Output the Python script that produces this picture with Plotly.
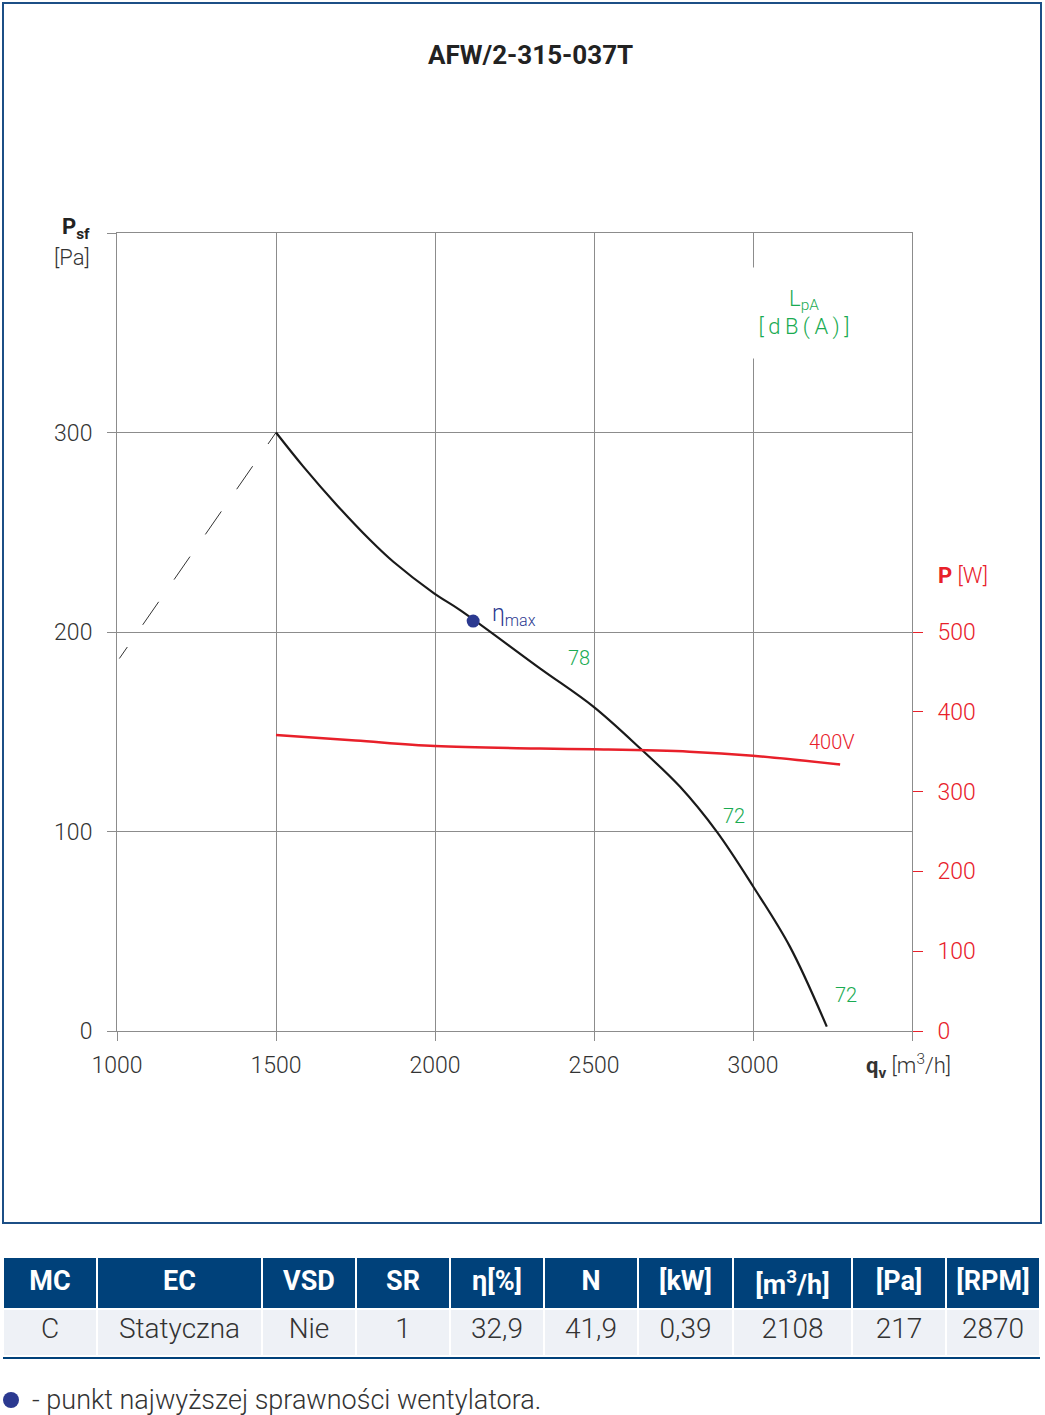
import plotly.graph_objects as go

W, H = 1045, 1415

# Fan characteristic (static pressure vs flow)
q_fan = [1500, 1586, 1691, 1796, 1869, 1997, 2079, 2330, 2498, 2645, 2770, 2886, 3001, 3116, 3232]
p_fan = [300, 282.9, 263.7, 246.1, 235.2, 219.4, 211, 181.8, 162.6, 141.7, 122.5, 99.9, 72.3, 42.3, 2.2]

# Unstable zone (dashed)
q_stall = [1500, 1000]
p_stall = [300, 185]

# Power input, 400V
q_pow = [1500, 1750, 2000, 2330, 2500, 2800, 3000, 3274]
p_pow = [371, 364, 357, 354, 353, 350, 345, 334]

# Point of max efficiency
q_eta = [2120]
p_eta = [205.5]

# Axis ticks
x_ticks = [1000, 1500, 2000, 2500, 3000, 3500]
x_labels = ["1000", "1500", "2000", "2500", "3000", ""]
y_ticks = [0, 100, 200, 300, 400]
y_labels = ["0", "100", "200", "300", ""]
pw_ticks = [0, 100, 200, 300, 400, 500]

# Noise labels (dB(A))
lpa_labels = ["78", "72", "72"]

# Table
table_header = ["MC", "EC", "VSD", "SR", "η[%]", "N", "[kW]", "[m<sup>3</sup>/h]", "[Pa]", "[RPM]"]
table_row = ["C", "Statyczna", "Nie", "1", "32,9", "41,9", "0,39", "2108", "217", "2870"]
col_widths = [94, 165, 94, 94, 94, 94, 95, 119, 94, 94]

FONT = "Roboto"
NAVY = "#00417a"
RED = "#e8202a"
GREEN = "#1aab52"
ETA = "#2b3990"
GRID = "#8c8c8c"


def px(x):
    return x / W


def py(y):
    return 1 - y / H


fig = go.Figure()

fig.add_trace(go.Scatter(x=q_stall, y=p_stall, mode="lines",
                         line=dict(color="#333333", width=1,
                                   dash="14px,27px,28px,27px,28px,27px,28px,27px,28px,27px,14px,200px"),
                         hoverinfo="skip"))
fig.add_trace(go.Scatter(x=q_fan, y=p_fan, mode="lines",
                         line=dict(color="#1a1a1a", width=2.2, shape="spline", smoothing=1.0)))
fig.add_trace(go.Scatter(x=q_pow, y=p_pow, mode="lines",
                         line=dict(color=RED, width=2.5, shape="spline", smoothing=1.0), yaxis="y2"))
fig.add_trace(go.Scatter(x=q_eta, y=p_eta, mode="markers",
                         marker=dict(color=ETA, size=13)))

fig.add_trace(go.Table(
    domain=dict(x=[px(3), px(1040)], y=[py(1358), py(1257)]),
    columnwidth=col_widths,
    header=dict(values=["<b>%s</b>" % h for h in table_header],
                fill_color=NAVY, line=dict(color="white", width=2),
                font=dict(family=FONT, size=27, color="white"),
                align="center", height=51),
    cells=dict(values=[[v] for v in table_row],
               fill_color="#eef1f6", line=dict(color="white", width=2),
               font=dict(family=FONT, size=28, color="#333333", weight=300),
               align="center", height=47),
))

fig.update_layout(
    width=W, height=H,
    margin=dict(l=0, r=0, t=0, b=0, autoexpand=False),
    paper_bgcolor="white", plot_bgcolor="white",
    showlegend=False,
    font=dict(family=FONT, size=21, color="#333333"),
    xaxis=dict(domain=[px(117), px(912)], range=[1000, 3500],
               tickvals=x_ticks, ticktext=x_labels,
               showgrid=True, gridcolor=GRID, gridwidth=1, zeroline=False,
               ticks="outside", ticklen=9, tickcolor=GRID,
               showline=True, linecolor=GRID, linewidth=1, mirror=True,
               ticklabelstandoff=4, automargin=False,
               tickfont=dict(size=23, color="#333333", weight=300)),
    yaxis=dict(domain=[py(1031), py(233)], range=[0, 400],
               tickvals=y_ticks, ticktext=y_labels,
               showgrid=True, gridcolor=GRID, gridwidth=1, zeroline=False,
               ticks="outside", ticklen=9, tickcolor=GRID,
               showline=True, linecolor=GRID, linewidth=1, mirror=True,
               ticklabelstandoff=10, automargin=False,
               tickfont=dict(size=23, color="#333333", weight=300)),
    yaxis2=dict(overlaying="y", side="right", anchor="x", range=[0, 1000],
                tickvals=pw_ticks, showgrid=False, zeroline=False,
                ticks="outside", ticklen=10, tickcolor=RED, showline=False,
                ticklabelstandoff=10, automargin=False,
                tickfont=dict(size=23, color=RED, weight=300)),
)

# Frame around chart and line under table
fig.add_shape(type="rect", xref="paper", yref="paper",
              x0=px(3), x1=px(1041), y0=py(1223), y1=py(3),
              line=dict(color="#1c4f86", width=2))
fig.add_shape(type="line", xref="paper", yref="paper",
              x0=px(3), x1=px(1040), y0=py(1358), y1=py(1358),
              line=dict(color=NAVY, width=2))
fig.add_shape(type="circle", xref="paper", yref="paper",
              x0=px(3), x1=px(19), y0=py(1408), y1=py(1392),
              fillcolor=ETA, line=dict(width=0))

ann = [
    dict(text="<b>AFW/2-315-037T</b>", x=px(530), y=py(55), size=26, color="#222222", weight=None),
    dict(text="<b>P<sub>sf</sub></b>", x=px(92), y=py(228), size=22, color="#222222", xanchor="right", weight=None),
    dict(text="[Pa]", x=px(92), y=py(257), size=22, color="#333333", xanchor="right"),
    dict(text="<b>q<sub>v</sub></b> [m<sup>3</sup>/h]", x=px(864), y=py(1066), size=22,
         color="#333333", xanchor="left"),
    dict(text="<b>P</b> [W]", x=px(936), y=py(575), size=22, color=RED, xanchor="left"),
    dict(text="- punkt najwyższej sprawności wentylatora.", x=px(30), y=py(1400), size=27,
         color="#333333", xanchor="left"),
]
for a in ann:
    f = dict(family=FONT, size=a["size"], color=a["color"])
    if "weight" not in a:
        f["weight"] = 300
    fig.add_annotation(text=a["text"], x=a["x"], y=a["y"], xref="paper", yref="paper",
                       xanchor=a.get("xanchor", "center"), yanchor="middle", showarrow=False,
                       font=f)

# Labels inside the plot
fig.add_annotation(text="L<sub>pA</sub><br>[\u2009d\u2009B\u2009(\u2009A\u2009)\u2009]", x=3160, y=360,
                   showarrow=False, bgcolor="white", width=100, height=88,
                   font=dict(family=FONT, size=22, color=GREEN, weight=300))
for txt, qx, qy in zip(lpa_labels, [2453, 2940, 3292], [187, 108, 18]):
    fig.add_annotation(text=txt, x=qx, y=qy, showarrow=False,
                       font=dict(family=FONT, size=20, color=GREEN, weight=300))
fig.add_annotation(text="400V", x=3248, y=145, showarrow=False,
                   font=dict(family=FONT, size=20, color=RED, weight=300))
fig.add_annotation(text="η<sub>max</sub>", x=2173, y=208.5, xanchor="left", showarrow=False,
                   font=dict(family=FONT, size=23, color=ETA, weight=300))

# drop the default page margin so the figure sits at the window's corner
fig.write_html("out.html", config={"displayModeBar": False},
               post_script="document.body.style.margin='0';")
